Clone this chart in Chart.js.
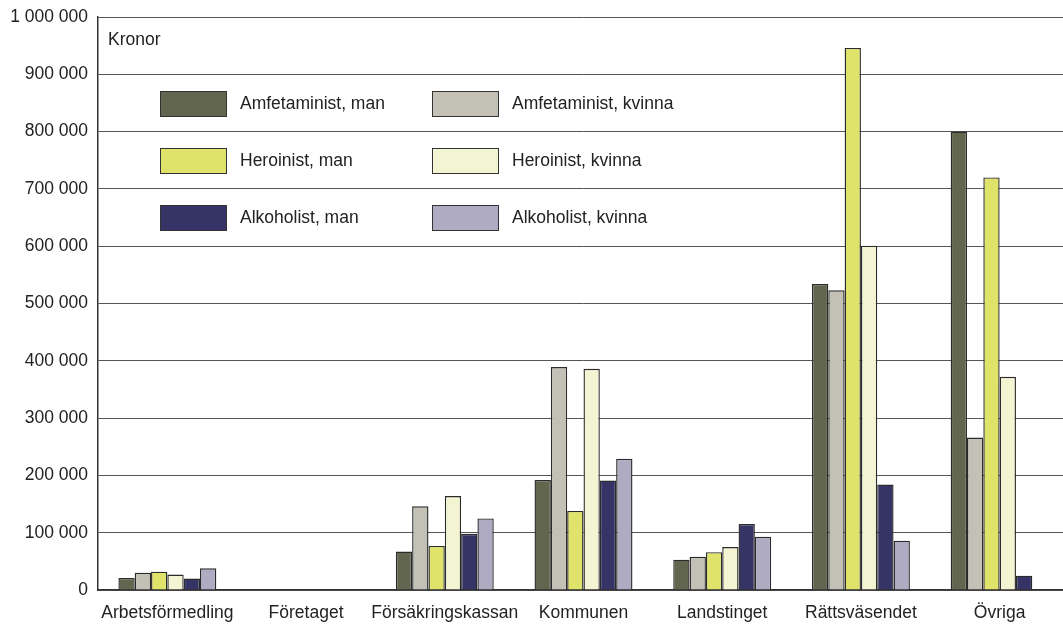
<!DOCTYPE html>
<html>
<head>
<meta charset="utf-8">
<script src="https://cdn.jsdelivr.net/npm/chart.js@4/dist/chart.umd.min.js"></script>
<style>
  html, body { margin: 0; padding: 0; background: #fff; overflow: hidden; }
  #wrap { width: 1069px; height: 628px; }
</style>
</head>
<body>
<div id="wrap"><canvas id="myChart"></canvas></div>
<script>
const categories = ["Arbetsförmedling", "Företaget", "Försäkringskassan", "Kommunen", "Landstinget", "Rättsväsendet", "Övriga"];

const amfetaministMan = [21000, 0, 67000, 192000, 53000, 534000, 800000];
const amfetaministKvinna = [30000, 0, 146000, 389000, 58000, 523000, 266000];
const heroinistMan = [32000, 0, 77000, 138000, 66000, 946000, 720000];
const heroinistKvinna = [27000, 0, 164000, 386000, 75000, 601000, 372000];
const alkoholistMan = [20000, 0, 98000, 191000, 115000, 184000, 25000];
const alkoholistKvinna = [38000, 0, 125000, 229000, 93000, 86000, 0];

const seriesNames = ["Amfetaminist, man", "Amfetaminist, kvinna", "Heroinist, man", "Heroinist, kvinna", "Alkoholist, man", "Alkoholist, kvinna"];
const seriesColors = ["#62664e", "#c3c0b6", "#dfe36a", "#f3f5d2", "#363366", "#aeabc3"];
const seriesValues = [amfetaministMan, amfetaministKvinna, heroinistMan, heroinistKvinna, alkoholistMan, alkoholistKvinna];

const yTicks = [0, 100000, 200000, 300000, 400000, 500000, 600000, 700000, 800000, 900000, 1000000];

const FONT = "'Liberation Sans', Arial, sans-serif";
const FONT_SIZE = 17.5;

function formatNumber(v) {
    return String(v).replace(/\B(?=(\d{3})+(?!\d))/g, " ");
}

// legend drawn inside the plot, 2 columns x 3 rows
const insideLegend = {
    id: "insideLegend",
    afterDraw(chart) {
        const ctx = chart.ctx;
        ctx.save();
        ctx.font = FONT_SIZE + "px " + FONT;
        ctx.textBaseline = "middle";
        ctx.textAlign = "left";
        chart.data.datasets.forEach((ds, i) => {
            const col = i % 2;
            const row = Math.floor(i / 2);
            const x = col === 0 ? 160 : 432;
            const y = 91 + row * 57;
            ctx.fillStyle = ds.backgroundColor;
            ctx.fillRect(x, y, 67, 26);
            ctx.strokeStyle = "#333";
            ctx.lineWidth = 1;
            ctx.strokeRect(x + 0.5, y + 0.5, 66, 25);
            ctx.fillStyle = "#222";
            ctx.fillText(ds.label, x + 80, y + 13);
        });
        ctx.fillText("Kronor", 108, 40);
        ctx.restore();
    }
};

const datasets = seriesNames.map((name, i) => ({
    label: name,
    data: seriesValues[i],
    backgroundColor: seriesColors[i],
    borderColor: "#2b2b2b",
    borderWidth: 1.4,
    categoryPercentage: 0.706,
    barPercentage: 1.0
}));

new Chart("myChart", {
    type: "bar",
    data: {
        labels: categories,
        datasets: datasets
    },
    options: {
        responsive: true,
        maintainAspectRatio: false,
        animation: false,
        layout: {padding: {top: 17, right: 0, left: 0, bottom: 0}},
        plugins: {
            legend: {display: false},
            tooltip: {enabled: false}
        },
        scales: {
            x: {
                grid: {display: false},
                border: {display: true, color: "#333", width: 1.5},
                ticks: {
                    color: "#222",
                    font: {family: FONT, size: FONT_SIZE},
                    padding: 5,
                    maxRotation: 0,
                    autoSkip: false
                },
                afterFit(scale) { scale.height = 38; }
            },
            y: {
                min: 0,
                max: 1000000,
                afterBuildTicks(scale) { scale.ticks = yTicks.map(v => ({value: v})); },
                grid: {color: "#555", lineWidth: 1, drawTicks: false},
                border: {display: true, color: "#333", width: 1.5},
                ticks: {
                    color: "#222",
                    font: {family: FONT, size: FONT_SIZE},
                    padding: 10,
                    callback: v => formatNumber(v)
                },
                afterFit(scale) {
                    scale.width = 98;
                    scale.paddingTop = 0;
                    scale.paddingBottom = 0;
                }
            }
        }
    },
    plugins: [insideLegend]
});
</script>
</body>
</html>
